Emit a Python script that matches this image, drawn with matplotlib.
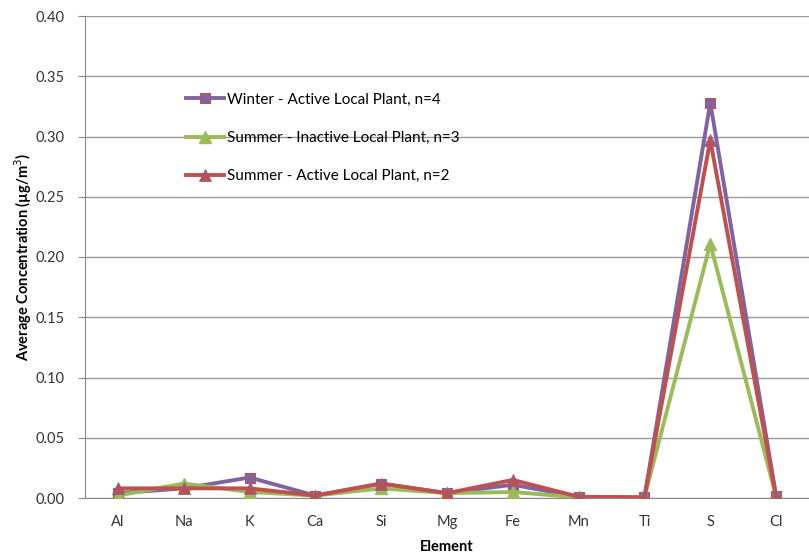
import numpy as np
import matplotlib.pyplot as plt

plt.rcParams['font.family'] = ['Lato', 'DejaVu Sans']

# === DATA ===
elements = ['Al', 'Na', 'K', 'Ca', 'Si', 'Mg', 'Fe', 'Mn', 'Ti', 'S', 'Cl']
winter_active = [0.004, 0.008, 0.017, 0.002, 0.012, 0.004, 0.011, 0.001, 0.0005, 0.328, 0.002]
summer_inactive = [0.002, 0.012, 0.005, 0.002, 0.008, 0.004, 0.005, 0.0005, 0.0005, 0.211, 0.001]
summer_active = [0.008, 0.008, 0.008, 0.002, 0.012, 0.004, 0.015, 0.001, 0.0005, 0.297, 0.001]
series_labels = ['Winter - Active Local Plant, n=4',
                 'Summer - Inactive Local Plant, n=3',
                 'Summer - Active Local Plant, n=2']
yticks = [0.00, 0.05, 0.10, 0.15, 0.20, 0.25, 0.30, 0.35, 0.40]

# === PLOT ===
fig = plt.figure(figsize=(8.09, 5.58), dpi=100)
ax = fig.add_axes([85 / 809, 60 / 558, 724 / 809, 482 / 558])

x = np.arange(len(elements))
ax.plot(x, winter_active, color='#8064A2', lw=2.8, marker='s', ms=7,
        mfc='#8064A2', mec='#C0504D', mew=0.8, label=series_labels[0], zorder=3)
ax.plot(x, summer_inactive, color='#9BBB59', lw=2.8, marker='^', ms=8,
        mfc='#9BBB59', mec='#9BBB59', label=series_labels[1], zorder=4)
ax.plot(x, summer_active, color='#C0504D', lw=2.8, marker='^', ms=8,
        mfc='#C0504D', mec='#8064A2', mew=0.6, label=series_labels[2], zorder=5)

ax.set_xlim(-0.5, len(elements) - 0.5)
ax.set_ylim(0, 0.40)
ax.set_xticks(x)
ax.set_xticklabels(elements, fontsize=10.5, color='#333333')
ax.set_yticks(yticks)
ax.set_yticklabels([f'{v:.2f}' for v in yticks], fontsize=10.5, color='#333333')
ax.tick_params(axis='x', length=0, pad=12)
ax.tick_params(axis='y', length=5, color='#888888', pad=10)

ax.grid(axis='y', color='#999999', lw=1)
ax.set_axisbelow(True)
for s in ['top', 'right']:
    ax.spines[s].set_visible(False)
ax.spines['left'].set_color('#888888')
ax.spines['bottom'].set_color('#888888')

ax.set_xlabel('Element', fontsize=10.5, fontweight='bold', labelpad=8)
ax.set_ylabel('Average Concentration (µg/m$^3$)', fontsize=10.5, fontweight='bold', labelpad=1)

ax.legend(loc='upper left', bbox_to_anchor=(0.12, 0.87), frameon=False,
          fontsize=11, handlelength=2.5, labelspacing=1.6, handletextpad=0.2)

fig.savefig('out.png', dpi=100)
